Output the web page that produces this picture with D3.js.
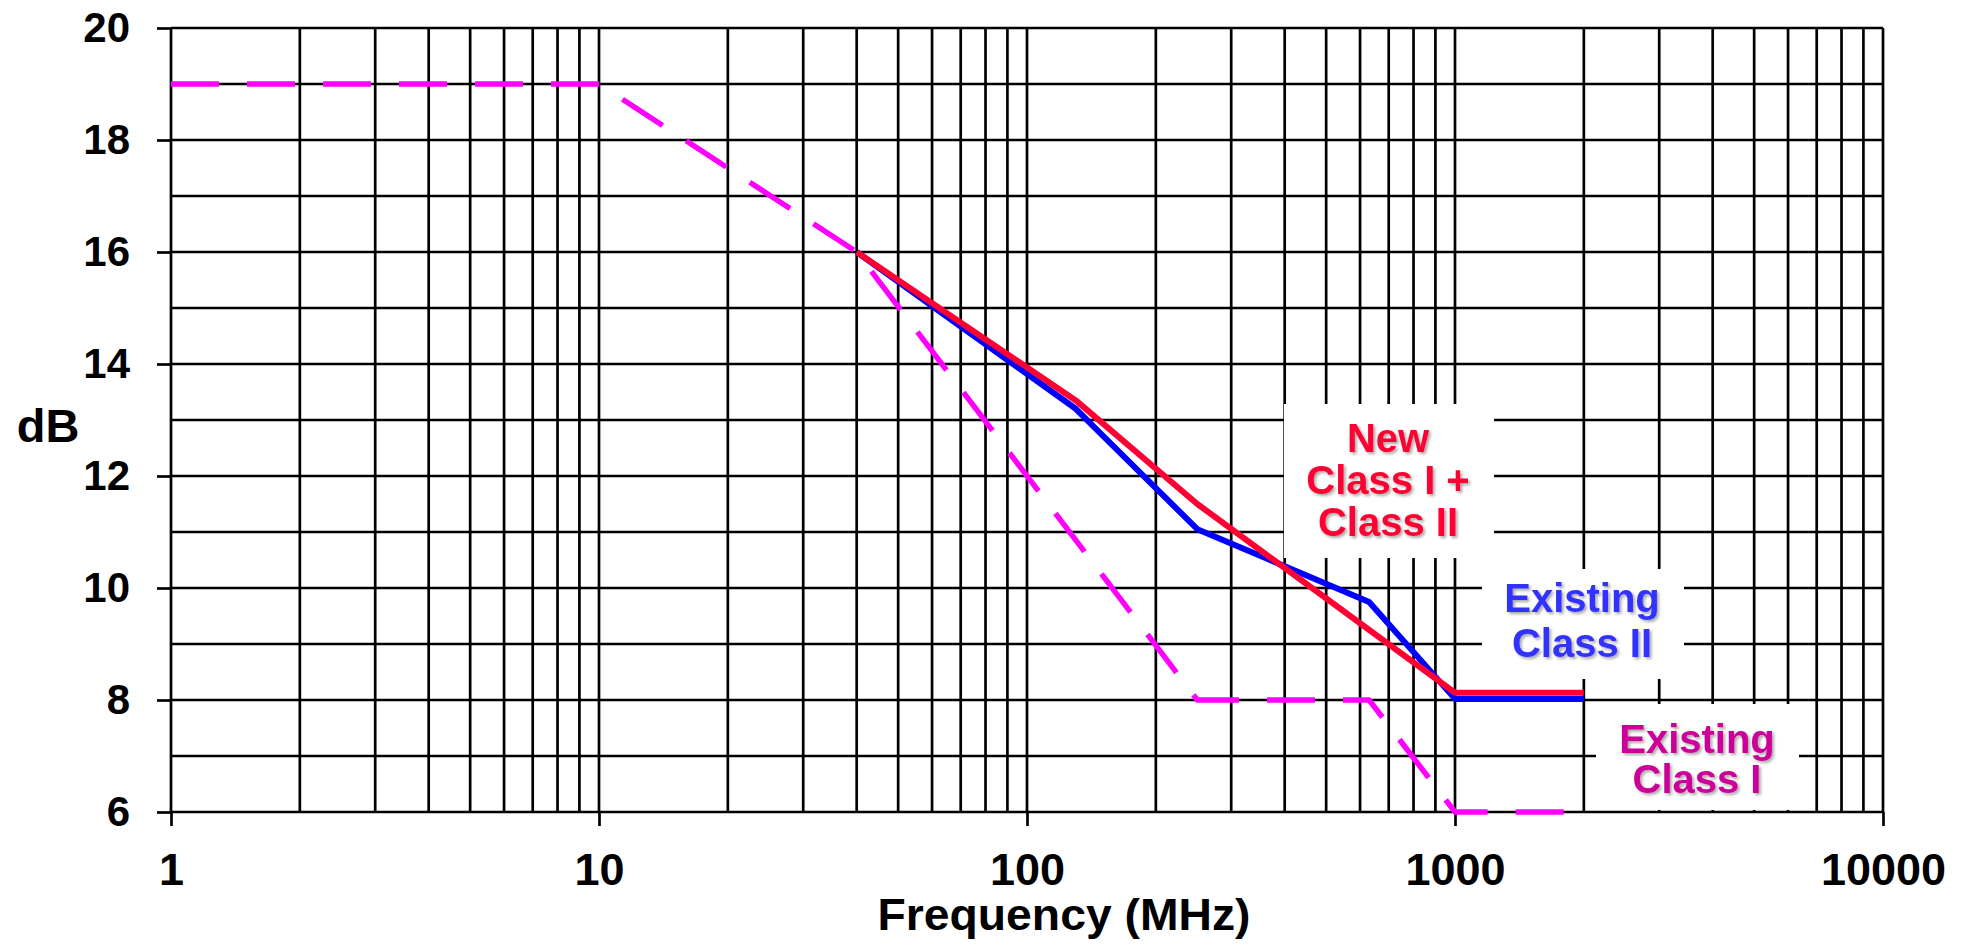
<!DOCTYPE html>
<html>
<head>
<meta charset="utf-8">
<script src="https://cdn.jsdelivr.net/npm/d3@7"></script>
<style>
  body { margin: 0; background: #fff; }
  text { font-family: "Liberation Sans", Arial, sans-serif; font-weight: bold; }
</style>
</head>
<body>
<div id="chart"></div>
<script>
// values
var xTicks = [1, 10, 100, 1000, 10000];
var yTicks = [6, 8, 10, 12, 14, 16, 18, 20];

var freqClassI = [1, 10, 40, 250, 630, 1000, 2000];
var dbClassI   = [19, 19, 16, 8, 8, 6, 6];

var freqClassII = [40, 130, 250, 630, 1000, 2000];
var dbClassII   = [16, 13.2, 11.05, 9.75, 8.02, 8.02];

var freqNew = [40, 130, 250, 1000, 2000];
var dbNew   = [16, 13.35, 11.5, 8.13, 8.13];

var labelNew     = ["New", "Class I +", "Class II"];
var labelClassII = ["Existing", "Class II"];
var labelClassI  = ["Existing", "Class I"];

var margin = {top: 28, right: 89, bottom: 134, left: 171},
    width = 1972 - margin.left - margin.right,
    height = 946 - margin.top - margin.bottom;

var svg = d3.select("#chart")
    .append("svg")
    .attr("width", 1972)
    .attr("height", 946);

var defs = svg.append("defs");
var shadow = defs.append("filter").attr("id", "shadow")
    .attr("x", "-10%").attr("y", "-10%").attr("width", "130%").attr("height", "130%");
shadow.append("feDropShadow")
    .attr("dx", 2).attr("dy", 2).attr("stdDeviation", 1.5)
    .attr("flood-color", "#000").attr("flood-opacity", 0.35);

var g = svg.append("g")
    .attr("transform", "translate(" + margin.left + "," + margin.top + ")");

var xScale = d3.scaleLog()
    .domain([1, 10000])
    .range([0, width]);

var yScale = d3.scaleLinear()
    .domain([6, 20])
    .range([height, 0]);

// grid
var vGrid = [];
[1, 10, 100, 1000].forEach(function(dec){
    for (var k = 1; k < 10; k++) vGrid.push(dec * k);
});
vGrid.push(10000);
var hGrid = d3.range(6, 21);

var grid = g.append("g").attr("class", "grid")
    .attr("stroke", "#000")
    .attr("stroke-width", 2.7);

grid.selectAll(null)
    .data(hGrid)
    .enter()
    .append("line")
    .attr("x1", 0).attr("x2", width)
    .attr("y1", d => yScale(d)).attr("y2", d => yScale(d));

grid.selectAll(null)
    .data(vGrid)
    .enter()
    .append("line")
    .attr("x1", d => xScale(d)).attr("x2", d => xScale(d))
    .attr("y1", 0).attr("y2", height);

// axes
var xAxis = g.append("g")
    .attr("transform", "translate(0," + height + ")")
    .call(d3.axisBottom(xScale).tickValues(xTicks).tickSize(14).tickPadding(27).tickFormat(d3.format("d")));
xAxis.select(".domain").remove();
xAxis.selectAll(".tick line").attr("stroke", "#000").attr("stroke-width", 2.7);
xAxis.selectAll(".tick text")
    .attr("fill", "#000")
    .style("font-size", "45px");

var yAxis = g.append("g")
    .call(d3.axisLeft(yScale).tickValues(yTicks).tickSize(14).tickPadding(27).tickFormat(d3.format("d")));
yAxis.select(".domain").remove();
yAxis.selectAll(".tick line").attr("stroke", "#000").attr("stroke-width", 2.7);
yAxis.selectAll(".tick text")
    .attr("fill", "#000")
    .style("font-size", "42px");

svg.append("text")
    .attr("x", 48).attr("y", 442)
    .attr("text-anchor", "middle")
    .style("font-size", "47px")
    .text("dB");

svg.append("text")
    .attr("x", 1064).attr("y", 930)
    .attr("text-anchor", "middle")
    .attr("textLength", 373)
    .attr("lengthAdjust", "spacingAndGlyphs")
    .style("font-size", "44px")
    .text("Frequency (MHz)");

// white label boxes
var boxes = [
    {x0: 1284, x1: 1494, y0: 404, y1: 558},
    {x0: 1482, x1: 1684, y0: 569, y1: 679},
    {x0: 1596, x1: 1799, y0: 704, y1: 810}
];
svg.selectAll(".box")
    .data(boxes)
    .enter()
    .append("rect")
    .attr("class", "box")
    .attr("x", d => d.x0).attr("y", d => d.y0)
    .attr("width", d => d.x1 - d.x0).attr("height", d => d.y1 - d.y0)
    .attr("fill", "#fff");

// series
var line = d3.line()
    .x(d => xScale(d[0]))
    .y(d => yScale(d[1]));

var series = [
    {f: freqClassI, v: dbClassI, color: "#ff00ff", w: 5.5, dash: "48,28"},
    {f: freqClassII, v: dbClassII, color: "#0000ff", w: 6, dash: null},
    {f: freqNew, v: dbNew, color: "#ff0033", w: 6, dash: null}
];

series.forEach(function(s){
    g.append("path")
        .datum(d3.zip(s.f, s.v))
        .attr("d", line)
        .attr("fill", "none")
        .attr("stroke", s.color)
        .attr("stroke-width", s.w)
        .attr("stroke-linejoin", "round")
        .attr("stroke-dasharray", s.dash);
});

// labels
var labels = [
    {lines: labelNew, x: 1388, ys: [452, 494, 536], color: "#ff0033"},
    {lines: labelClassII, x: 1582, ys: [612, 657], color: "#3333ff"},
    {lines: labelClassI, x: 1697, ys: [753, 793], color: "#cc0099"}
];

labels.forEach(function(l){
    l.lines.forEach(function(t, i){
        svg.append("text")
            .attr("x", l.x).attr("y", l.ys[i])
            .attr("text-anchor", "middle")
            .attr("fill", l.color)
            .attr("filter", "url(#shadow)")
            .style("font-size", "40px")
            .text(t);
    });
});
</script>
</body>
</html>
